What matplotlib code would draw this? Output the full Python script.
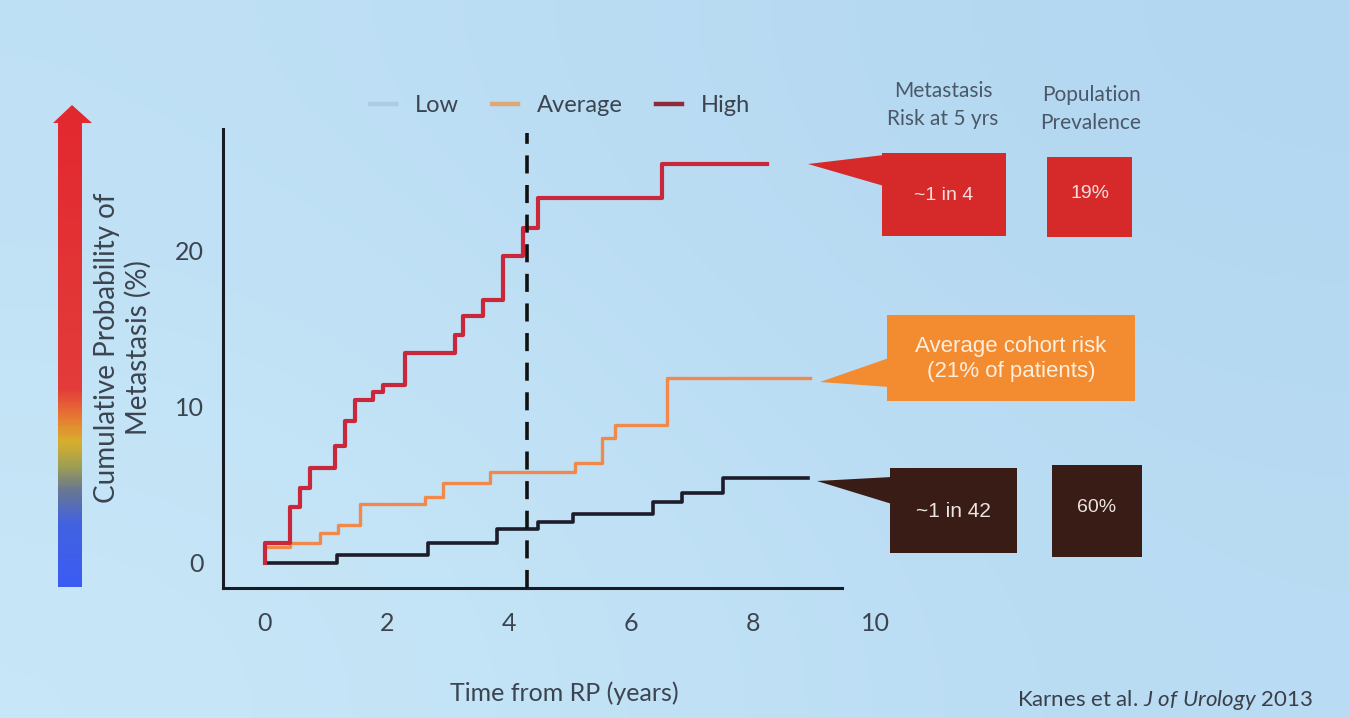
import numpy as np
import matplotlib
matplotlib.use("Agg")
import matplotlib.pyplot as plt
from matplotlib.colors import LinearSegmentedColormap
from matplotlib.patches import Polygon, Rectangle
from matplotlib.lines import Line2D

# cumulative probability of metastasis (%) vs years from RP
high_t = [0, 0, 0.41, 0.57, 0.74, 1.15, 1.31, 1.48, 1.77, 1.93, 2.30, 3.11, 3.25, 3.57, 3.90, 4.23, 4.48, 6.51, 8.23]
high_v = [0, 1.3, 3.6, 4.8, 6.1, 7.5, 9.1, 10.4, 10.9, 11.4, 13.4, 14.6, 15.8, 16.8, 19.6, 21.4, 23.3, 25.5, 25.5]
avg_t = [0, 0.41, 0.90, 1.20, 1.56, 2.62, 2.92, 3.69, 5.08, 5.52, 5.74, 6.59, 8.93]
avg_v = [1.0, 1.3, 1.9, 2.4, 3.8, 4.2, 5.1, 5.8, 6.4, 8.0, 8.8, 11.8, 11.8]
low_t = [0, 1.18, 2.67, 3.80, 4.48, 5.05, 6.36, 6.84, 7.51, 8.90]
low_v = [0, 0.5, 1.3, 2.2, 2.6, 3.1, 3.9, 4.5, 5.4, 5.4]
cut_t = 4.3
xticks = [0, 2, 4, 6, 8, 10]
yticks = [0, 10, 20]
legend_labels = ["Low", "Average", "High"]
legend_colors = ["#aecbe4", "#dfa877", "#8e2a3c"]
risk_text = ["~1 in 4", "Average cohort risk\n(21% of patients)", "~1 in 42"]
prev_text = ["19%", "", "60%"]

W, H = 1349, 718
TXT = "#3c4450"
plt.rcParams["font.family"] = ["Lato", "DejaVu Sans"]
plt.rcParams["mathtext.fontset"] = "custom"
plt.rcParams["mathtext.rm"] = "Lato"
plt.rcParams["mathtext.it"] = "Lato:italic"

fig = plt.figure(figsize=(W/100, H/100), dpi=100)

# slide background, soft gradient
bg = fig.add_axes([0, 0, 1, 1], zorder=0)
bg.axis("off")
grad = np.array([[0.3, 0.7], [0.0, 0.5]])
bgcmap = LinearSegmentedColormap.from_list("bg", ["#c8e7f8", "#b3d7f1"])
bg.imshow(grad, cmap=bgcmap, aspect="auto", interpolation="bicubic", extent=[0, 1, 0, 1])
bg.set_xlim(0, 1)
bg.set_ylim(0, 1)

# main axes: data -> pixel x = 265 + 61*t, y = 563 - 15.65*v
x0, y0 = -0.69, -1.6
x1, y1 = 10.5, 27.7
px = lambda t: 265 + 61*t
py = lambda v: 563 - 15.65*v
ax = fig.add_axes([px(x0)/W, 1 - py(y0)/H, (px(x1)-px(x0))/W, (py(y0)-py(y1))/H], zorder=1)
ax.patch.set_alpha(0)
ax.set_xlim(x0, x1)
ax.set_ylim(y0, y1)

ax.step(low_t, low_v, where="post", color="#1d1c2a", lw=2.6, zorder=3)
ax.step(avg_t, avg_v, where="post", color="#f0894a", lw=2.4, zorder=3)
ax.step(high_t, high_v, where="post", color="#c9283c", lw=3.0, zorder=4)
ax.vlines(cut_t, y0, 27.5, colors="#111111", lw=2.6, linestyles=(0, (5, 3.2)), zorder=5)

for s in ["top", "right"]:
    ax.spines[s].set_visible(False)
ax.spines["left"].set_linewidth(2.2)
ax.spines["bottom"].set_linewidth(2.2)
ax.spines["left"].set_color("#1a1a22")
ax.spines["bottom"].set_color("#1a1a22")
ax.spines["bottom"].set_bounds(x0, 9.46)
ax.set_xticks(xticks)
ax.set_yticks(yticks)
ax.tick_params(axis="x", length=0, pad=17, labelsize=18, labelcolor=TXT)
ax.tick_params(axis="y", length=0, pad=14, labelsize=18, labelcolor=TXT)
ax.set_xlabel("Time from RP (years)", fontsize=18, color=TXT, labelpad=34)

handles = [Line2D([], [], color=c, lw=3.2) for c in legend_colors]
fig.legend(handles, legend_labels, loc="center", bbox_to_anchor=(560/W, 1 - 106/H),
           ncol=3, frameon=False, fontsize=17, labelcolor=TXT, handlelength=1.1,
           handletextpad=0.8, columnspacing=1.4)

# decorations in pixel coordinates
deco = fig.add_axes([0, 0, 1, 1], zorder=2)
deco.axis("off")
deco.set_xlim(0, W)
deco.set_ylim(H, 0)

# gradient arrow
arrow = Polygon([[58, 587], [82, 587], [82, 123], [92, 123], [72, 105], [53, 123], [58, 123]],
                closed=True, facecolor="none", edgecolor="none")
deco.add_patch(arrow)
acmap = LinearSegmentedColormap.from_list("arr", [(0, "#3b5cf4"), (0.13, "#4362e0"), (0.2, "#6a7890"),
                                                  (0.25, "#a0a052"), (0.3, "#d8b02c"), (0.35, "#e87a32"),
                                                  (0.41, "#e23c3a"), (1, "#e3282f")])
ramp = np.linspace(1, 0, 200).reshape(-1, 1)
im = deco.imshow(ramp, cmap=acmap, aspect="auto", extent=[50, 95, 587, 105], zorder=2)
im.set_clip_path(arrow)
deco.set_xlim(0, W)
deco.set_ylim(H, 0)
deco.text(123, 348, "Cumulative Probability of\nMetastasis (%)", rotation=90, ha="center",
          va="center", fontsize=20, color=TXT, linespacing=1.25)

# column headers
deco.text(943, 105, "Metastasis\nRisk at 5 yrs", ha="center", va="center", fontsize=15,
          color="#4a5868", linespacing=1.45)
deco.text(1091, 109, "Population\nPrevalence", ha="center", va="center", fontsize=15,
          color="#4a5868", linespacing=1.45)

def callout(box, tip, base, color, text, tcolor, fs):
    xa, ya, xb, yb = box
    deco.add_patch(Polygon([tip, [xa + 2, base[0]], [xa + 2, base[1]]], closed=True,
                           facecolor=color, edgecolor="none"))
    deco.add_patch(Rectangle((xa, ya), xb - xa, yb - ya, facecolor=color, edgecolor="none"))
    deco.text((xa + xb)/2, (ya + yb)/2 + 1, text, ha="center", va="center", color=tcolor,
              fontsize=fs, family="Liberation Sans", linespacing=1.3)

def plainbox(box, color, text, tcolor):
    xa, ya, xb, yb = box
    deco.add_patch(Rectangle((xa, ya), xb - xa, yb - ya, facecolor=color, edgecolor="none"))
    deco.text((xa + xb)/2, (ya + yb)/2 - 3, text, ha="center", va="center", color=tcolor,
              fontsize=14, family="Liberation Sans")

red, orange, dark = "#d62a2a", "#f38b30", "#3a1c17"
callout((882, 153, 1006, 236), (808, 164), (155, 186), red, risk_text[0], "#f6dede", 14)
callout((887, 315, 1135, 401), (820, 382), (358, 387), orange, risk_text[1], "#fdeede", 16)
callout((890, 468, 1017, 553), (817, 481), (477, 504), dark, risk_text[2], "#ece4e0", 15)
plainbox((1047, 157, 1132, 237), red, prev_text[0], "#f6dede")
plainbox((1052, 465, 1142, 557), dark, prev_text[2], "#ece4e0")

deco.text(1313, 700, r"Karnes et al. $\mathit{J\ of\ Urology}$ 2013", ha="right", va="center",
          fontsize=16, color="#3a3f4a")

fig.savefig("out.png", dpi=100, facecolor="#c2e2f6")
